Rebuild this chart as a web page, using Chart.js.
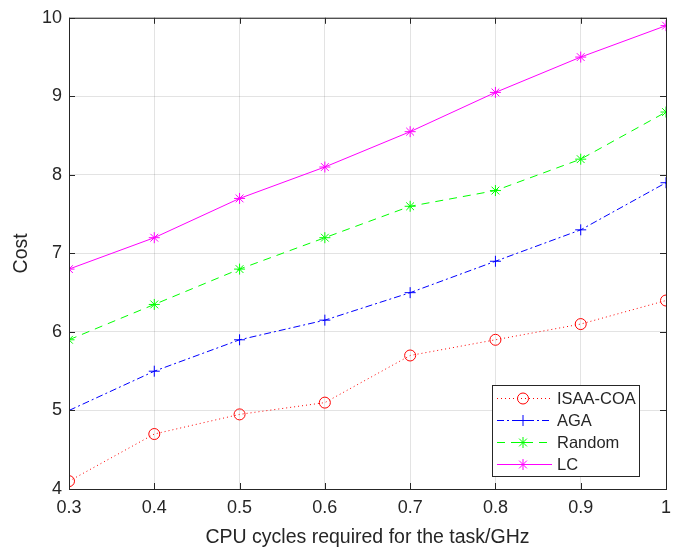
<!DOCTYPE html>
<html>
<head>
<meta charset="utf-8">
<script src="https://cdn.jsdelivr.net/npm/chart.js@4.4.1/dist/chart.umd.min.js"></script>
<style>
  html, body { margin: 0; padding: 0; background: #fff; }
  #wrap { width: 684px; height: 549px; }
</style>
</head>
<body>
<div id="wrap"><canvas id="c" width="684" height="549"></canvas></div>
<script>
// data
const xValues = [0.3, 0.4, 0.5, 0.6, 0.7, 0.8, 0.9, 1.0];
const isaaCoa = [4.1, 4.7, 4.95, 5.1, 5.7, 5.9, 6.1, 6.4];
const aga     = [5.0, 5.5, 5.9, 6.15, 6.5, 6.9, 7.3, 7.9];
const randomS = [5.9, 6.35, 6.8, 7.2, 7.6, 7.8, 8.2, 8.8];
const lc      = [6.8, 7.2, 7.7, 8.1, 8.55, 9.05, 9.5, 9.9];

const xTicks = [0.3, 0.4, 0.5, 0.6, 0.7, 0.8, 0.9, 1.0];
const xTickLabels = ['0.3', '0.4', '0.5', '0.6', '0.7', '0.8', '0.9', '1'];
const yTicks = [4, 5, 6, 7, 8, 9, 10];

const FONT = '"Liberation Sans", Arial, Helvetica, sans-serif';
const AXIS = '#262626';

const pts = (ys) => xValues.map((x, i) => ({ x, y: ys[i] }));

function series(label, data, color, dash, style){
  return {
    label, data: pts(data),
    borderColor: color, backgroundColor: 'transparent',
    borderWidth: 1, borderDash: dash,
    pointStyle: style, pointRadius: 5.5, pointBorderWidth: 1,
    pointBorderColor: color, pointBackgroundColor: 'transparent',
    tension: 0, fill: false
  };
}

// MATLAB style box + inward ticks
const boxPlugin = {
  id: 'boxPlugin',
  afterDatasetsDraw(chart){
    const {ctx, chartArea: a, scales} = chart;
    ctx.save();
    ctx.strokeStyle = AXIS;
    ctx.lineWidth = 1;
    ctx.strokeRect(a.left + 0.5, a.top + 0.5, a.right - a.left, a.bottom - a.top);
    ctx.beginPath();
    const tl = 6;
    scales.x.ticks.forEach(t => {
      const px = Math.round(scales.x.getPixelForValue(t.value)) + 0.5;
      ctx.moveTo(px, a.bottom); ctx.lineTo(px, a.bottom - tl);
      ctx.moveTo(px, a.top); ctx.lineTo(px, a.top + tl);
    });
    scales.y.ticks.forEach(t => {
      const py = Math.round(scales.y.getPixelForValue(t.value)) + 0.5;
      ctx.moveTo(a.left, py); ctx.lineTo(a.left + tl, py);
      ctx.moveTo(a.right, py); ctx.lineTo(a.right - tl, py);
    });
    ctx.stroke();
    ctx.restore();
  }
};

// legend box in lower right, drawn from the dataset styles
const legendBox = {
  id: 'legendBox',
  afterDraw(chart){
    const {ctx} = chart;
    const bx = 492, by = 385, bw = 147, bh = 91;
    ctx.save();
    ctx.fillStyle = '#fff';
    ctx.fillRect(bx, by, bw, bh);
    ctx.strokeStyle = AXIS;
    ctx.lineWidth = 1;
    ctx.strokeRect(bx + 0.5, by + 0.5, bw, bh);
    ctx.font = '16.5px ' + FONT;
    ctx.textBaseline = 'middle';
    chart.data.datasets.forEach((ds, i) => {
      const y = by + 13.5 + i * 22;
      ctx.save();
      ctx.strokeStyle = ds.borderColor;
      ctx.lineWidth = 1;
      ctx.setLineDash(ds.borderDash || []);
      ctx.beginPath();
      ctx.moveTo(bx + 5, y); ctx.lineTo(bx + 60, y);
      ctx.stroke();
      ctx.setLineDash([]);
      ctx.strokeStyle = ds.borderColor;
      ctx.fillStyle = 'transparent';
      Chart.helpers.drawPoint(ctx, {
        pointStyle: ds.pointStyle, radius: ds.pointRadius, borderWidth: 1, rotation: 0
      }, bx + 31, y);
      ctx.restore();
      ctx.fillStyle = AXIS;
      ctx.fillText(ds.label, bx + 65, y + 1);
    });
    ctx.restore();
  }
};

new Chart(document.getElementById('c').getContext('2d'), {
  type: 'line',
  data: {
    datasets: [
      series('ISAA-COA', isaaCoa, '#ff0000', [1, 3], 'circle'),
      series('AGA', aga, '#0000ff', [7, 3, 2, 3], 'cross'),
      series('Random', randomS, '#00ff00', [8, 6], 'star'),
      series('LC', lc, '#ff00ff', [], 'star')
    ]
  },
  options: {
    responsive: false,
    animation: false,
    devicePixelRatio: 1,
    layout: { padding: { top: 17, right: 18, left: 0, bottom: 0 } },
    plugins: { legend: { display: false }, tooltip: { enabled: false } },
    scales: {
      x: {
        type: 'linear', min: 0.3, max: 1.0,
        afterBuildTicks: (s) => { s.ticks = xTicks.map(v => ({ value: v })); },
        afterFit: (s) => { s.height = 60; },
        ticks: {
          callback: (v, i) => xTickLabels[i],
          color: AXIS, padding: 8, maxRotation: 0,
          font: { family: FONT, size: 18 }
        },
        grid: { color: 'rgba(38,38,38,0.13)', drawTicks: false },
        border: { display: false },
        title: {
          display: true, text: 'CPU cycles required for the task/GHz',
          color: AXIS, font: { family: FONT, size: 19.5 }, padding: { top: 0, bottom: 0 }
        }
      },
      y: {
        min: 4, max: 10,
        afterBuildTicks: (s) => { s.ticks = yTicks.map(v => ({ value: v })); },
        afterFit: (s) => { s.width = 69; },
        ticks: {
          color: AXIS, padding: 7,
          font: { family: FONT, size: 18 }
        },
        grid: { color: 'rgba(38,38,38,0.13)', drawTicks: false },
        border: { display: false },
        title: {
          display: true, text: 'Cost',
          color: AXIS, font: { family: FONT, size: 19.5 }, padding: { top: 10, bottom: 0 }
        }
      }
    }
  },
  plugins: [boxPlugin, legendBox]
});
</script>
</body>
</html>
